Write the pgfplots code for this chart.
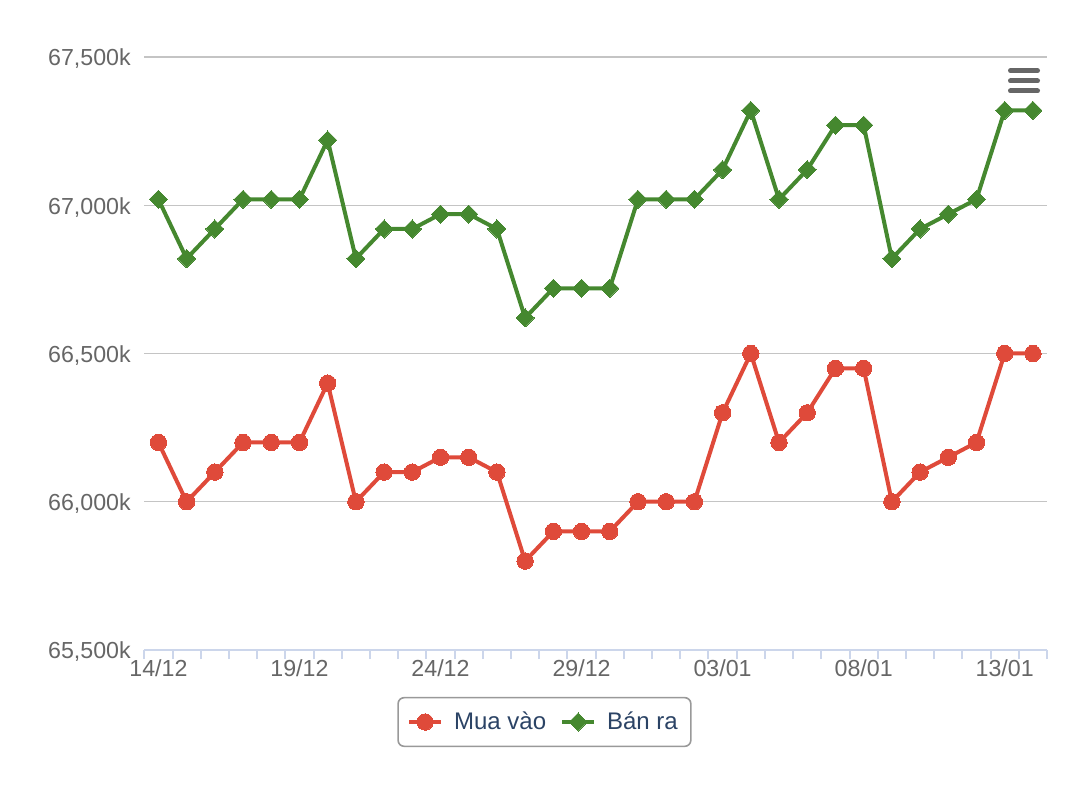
\documentclass[border=0pt]{standalone}
\usepackage{pgfplots}
\pgfplotsset{compat=1.18}
\usepackage{fontspec}
\setmainfont{Liberation Sans}
\definecolor{redS}{HTML}{DF4A3A}
\definecolor{greenS}{HTML}{45882F}
\definecolor{axisblue}{HTML}{CCD6EB}
\definecolor{gridgray}{HTML}{C4C4C4}
\definecolor{labgray}{HTML}{666666}
\definecolor{legtext}{HTML}{2B4365}
\definecolor{legborder}{HTML}{999999}
\begin{document}
\begin{tikzpicture}
\begin{axis}[
  at={(72.15bp,77bp)}, anchor=south west,
  scale only axis, width=451.35bp, height=296.5bp,
  xmin=-0.5, xmax=31.5, ymin=65500, ymax=67500,
  scaled y ticks=false,
  axis x line*=bottom, axis y line*=left,
  y axis line style={draw=none},
  x axis line style={draw=axisblue, line width=1bp},
  xtick={0,5,10,15,20,25,30},
  xticklabels={14/12,19/12,24/12,29/12,03/01,08/01,13/01},
  minor xtick={-0.5,0.5,...,31.5},
  tick align=outside,
  major x tick style={draw=none},
  minor x tick style={draw=axisblue, line width=1bp},
  minor tick length=4.5bp,
  ytick={65500,66000,66500,67000,67500},
  yticklabels={{65,500k},{66,000k},{66,500k},{67,000k},{67,500k}},
  major y tick style={draw=none},
  ymajorgrids, grid style={draw=gridgray, line width=0.6bp},
  ticklabel style={font=\fontsize{11.6bp}{13bp}\selectfont, text=labgray},
  yticklabel style={xshift=1bp, yshift=-1bp},
  xticklabel style={yshift=3bp},
  legend columns=2,
  legend style={at={(0.4433,-0.1214)}, anchor=center, draw=legborder, rounded corners=3bp, line width=0.8bp,
    font=\fontsize{12bp}{14bp}\selectfont, text=legtext, inner xsep=4.5bp, inner ysep=5bp,
    /tikz/every odd column/.append style={column sep=3.5bp},
    /tikz/every even column/.append style={column sep=5bp}},
  legend image code/.code={\draw[mark repeat=2,mark phase=2] plot coordinates {(0bp,0bp)(8bp,0bp)(16bp,0bp)};},
  clip=false,
]
\addplot[redS, line width=2bp, mark=*, mark size=4.1bp, mark options={line width=0pt}] coordinates {
(0,66200)(1,66000)(2,66100)(3,66200)(4,66200)(5,66200)(6,66400)(7,66000)
(8,66100)(9,66100)(10,66150)(11,66150)(12,66100)(13,65800)(14,65900)(15,65900)
(16,65900)(17,66000)(18,66000)(19,66000)(20,66300)(21,66500)(22,66200)(23,66300)
(24,66450)(25,66450)(26,66000)(27,66100)(28,66150)(29,66200)(30,66500)(31,66500)};
\addlegendentry{Mua vào}
\addplot[greenS, line width=2bp, mark=square*, mark size=3.2bp, mark options={rotate=45, line width=0pt}] coordinates {
(0,67020)(1,66820)(2,66920)(3,67020)(4,67020)(5,67020)(6,67220)(7,66820)
(8,66920)(9,66920)(10,66970)(11,66970)(12,66920)(13,66620)(14,66720)(15,66720)
(16,66720)(17,67020)(18,67020)(19,67020)(20,67120)(21,67320)(22,67020)(23,67120)
(24,67270)(25,67270)(26,66820)(27,66920)(28,66970)(29,67020)(30,67320)(31,67320)};
\addlegendentry{Bán ra}
\end{axis}
\draw[labgray, line width=2.5bp, line cap=round] (505.25bp,366.65bp) -- (518.75bp,366.65bp);
\draw[labgray, line width=2.5bp, line cap=round] (505.25bp,361.5bp) -- (518.75bp,361.5bp);
\draw[labgray, line width=2.5bp, line cap=round] (505.25bp,356.5bp) -- (518.75bp,356.5bp);
\pgfresetboundingbox
\path[use as bounding box] (0,0) rectangle (546bp,402bp);
\end{tikzpicture}
\end{document}
